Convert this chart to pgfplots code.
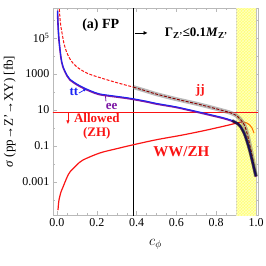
\documentclass[border=0pt]{standalone}
\usepackage{pgfplots}
\pgfplotsset{compat=1.18}
\usepackage{fontspec}
\setmainfont{Liberation Serif}
\usetikzlibrary{patterns,arrows.meta}
\definecolor{myyellow}{RGB}{255,255,120}
\definecolor{mypurple}{RGB}{125,25,165}
\definecolor{myblue}{RGB}{25,35,245}
\definecolor{myred}{RGB}{250,20,20}
\begin{document}
\begin{tikzpicture}
\useasboundingbox (-53pt,-51pt) rectangle (213pt,215pt);
\begin{axis}[
 scale only axis, width=205pt, height=207pt, at={(0,0)}, anchor=south west,
 xmin=-0.02, xmax=1.01, ymode=log, ymin=1.48e-5, ymax=4.6e6,
 xtick={0,0.2,0.4,0.6,0.8,1.0}, xticklabels={0.0,0.2,0.4,0.6,0.8,1.0},
 minor xtick={0.05,0.1,0.15,0.25,0.3,0.35,0.45,0.5,0.55,0.65,0.7,0.75,0.85,0.9,0.95},
 ytick={1e-3,1e-1,1e1,1e3,1e5}, yticklabels={0.001,0.1,10,1000,10\textsuperscript{5}},
 minor ytick={1e-4,1e-2,1,1e2,1e4,1e6},
 tick align=inside, ticklabel style={font=\fontsize{12}{12}\selectfont},
 axis line style={gray!55}, tick style={gray!55},
 major tick length=4pt, minor tick length=2pt,
 xlabel={$c_\phi$}, xlabel style={font=\fontsize{14}{14}\selectfont, yshift=-6pt},
 ylabel={\textit{σ} (pp→Z'→XY) [fb]}, ylabel style={font=\fontsize{13}{13}\selectfont},
 clip=true,
]
% yellow band
\addplot[fill=myyellow, draw=gray!50, line width=0.4pt] coordinates {(0.9,1e-6)(1.0,1e-6)(1.0,1e8)(0.9,1e8)} -- cycle;
\addplot[pattern=crosshatch, pattern color=yellow!25!white, draw=none] coordinates {(0.9,1e-6)(1.0,1e-6)(1.0,1e8)(0.9,1e8)} -- cycle;
% vertical line
\addplot[black, line width=1pt] coordinates {(0.385,1e-6)(0.385,1e8)};
% horizontal allowed line
\addplot[myred, line width=0.9pt] coordinates {(-0.05,7)(1.05,7)};
% WW/ZH
\addplot[myred, line width=1.2pt, smooth] coordinates {
(0.005,2.75e-5)(0.007,5e-5)(0.01,1e-4)(0.02,2.8e-4)(0.03,5.2e-4)(0.05,1.78e-3)(0.065,3.6e-3)
(0.1,8.9e-3)(0.13,0.0166)(0.215,0.041)(0.3,0.071)(0.38,0.115)(0.5,0.224)(0.63,0.407)
(0.75,0.76)(0.865,1.48)(0.9,1.86)(0.93,2.14)};
\addplot[orange!90!red, line width=1pt, smooth] coordinates {(0.93,2.14)(0.95,2.0)(0.97,1.41)(0.98,1.0)(0.99,0.52)};
% jj bright red dashed
\addplot[myred, line width=1pt, dash pattern=on 3pt off 1.5pt, smooth] coordinates {
(0.012,4.0e6)(0.015,1.26e6)(0.02,4e5)(0.025,2.0e5)(0.035,5e4)(0.05,1.48e4)(0.07,5.6e3)
(0.1,2.45e3)(0.15,1.12e3)(0.215,631)(0.3,331)(0.385,185)};
% grey band along jj
\addplot[gray, opacity=0.55, line width=4pt, smooth] coordinates {
(0.385,185)(0.45,112)(0.5,76)(0.6,40)(0.7,22.4)(0.765,14.8)(0.83,9.5)(0.87,7.1)(0.9,5.0)
(0.92,3.16)(0.94,1.58)(0.95,0.79)(0.96,0.316)(0.97,0.1)(0.98,0.0316)(0.99,0.0079)(1.0,0.002)};
\addplot[red!55!black, line width=0.9pt, dash pattern=on 3pt off 1.5pt, smooth] coordinates {
(0.385,185)(0.45,112)(0.5,76)(0.6,40)(0.7,22.4)(0.765,14.8)(0.83,9.5)(0.87,7.1)(0.9,5.0)
(0.92,3.16)(0.94,1.58)(0.95,0.79)(0.96,0.316)(0.97,0.1)(0.98,0.0316)(0.99,0.0079)(1.0,0.002)};
% ee purple
\addplot[mypurple, line width=1.6pt, smooth] coordinates {
(0.003,3.2e6)(0.005,6.3e5)(0.01,7.8e4)(0.02,7.9e3)(0.03,2.45e3)(0.05,794)(0.065,468)
(0.1,251)(0.13,166)(0.17,105)(0.215,71)(0.3,52.5)(0.365,41.7)(0.45,28.2)(0.5,21.4)
(0.6,13.8)(0.7,7.76)(0.765,5.25)(0.83,3.55)(0.87,2.63)(0.9,1.9)(0.92,1.26)(0.94,0.5)
(0.95,0.25)(0.96,0.112)(0.97,0.0447)(0.98,0.0158)(0.99,0.00562)(1.0,0.002)};
% tt blue
\addplot[myblue, line width=0.9pt, smooth] coordinates {
(0.003,3.3e6)(0.005,6.8e5)(0.01,8.5e4)(0.02,8.7e3)(0.03,2.7e3)(0.05,880)(0.065,520)
(0.1,280)(0.13,185)(0.17,117)(0.215,79)(0.3,58)(0.365,46)(0.45,31)(0.5,23.5)
(0.6,15)(0.7,8.5)(0.765,5.8)(0.83,3.9)(0.87,2.9)(0.9,2.1)(0.92,1.4)(0.94,0.55)
(0.95,0.28)(0.96,0.125)(0.97,0.05)(0.98,0.0175)(0.99,0.0062)(1.0,0.0022)};
% dark band at the end
\addplot[black, opacity=0.6, line width=3pt, smooth] coordinates {
(0.88,2.6)(0.9,1.95)(0.92,1.3)(0.94,0.52)(0.95,0.26)(0.96,0.115)(0.97,0.046)(0.98,0.0165)(0.99,0.0059)(1.0,0.0021)};
% annotations
\node[font=\fontsize{14}{14}\selectfont\bfseries] at (axis cs:0.22,5.2e5) {(a) FP};
\draw[-{Latex[length=4pt,width=4pt]}, line width=0.6pt] (axis cs:0.39,1.9e5) -- (axis cs:0.455,1.9e5);
\node[font=\fontsize{13}{13}\selectfont\bfseries] at (axis cs:0.70,1.9e5) {Γ\textsubscript{Z'}≤0.1\textit{M}\textsubscript{Z'}};
\node[font=\fontsize{13}{13}\selectfont\bfseries, text=myred] at (axis cs:0.72,130) {jj};
\node[font=\fontsize{13}{13}\selectfont\bfseries, text=myblue] at (axis cs:0.085,100) {tt};
\draw[myblue, -{Latex[length=3pt,width=3pt]}, line width=0.7pt] (axis cs:0.11,87) -- (axis cs:0.148,150);
\node[font=\fontsize{13}{13}\selectfont\bfseries, text=mypurple] at (axis cs:0.275,16.6) {ee};
\draw[mypurple, line width=0.8pt] (axis cs:0.243,70) -- (axis cs:0.246,30);
\draw[myred, -{Latex[length=4pt,width=3.5pt]}, line width=0.7pt] (axis cs:0.055,7) -- (axis cs:0.055,1.6);
\node[font=\fontsize{13}{13}\selectfont\bfseries, text=myred] at (axis cs:0.2,3.6) {Allowed};
\node[font=\fontsize{13}{13}\selectfont\bfseries, text=myred] at (axis cs:0.2,0.52) {(ZH)};
\node[font=\fontsize{15}{15}\selectfont\bfseries, text=myred] at (axis cs:0.625,0.047) {WW/ZH};
\end{axis}
\end{tikzpicture}
\end{document}
